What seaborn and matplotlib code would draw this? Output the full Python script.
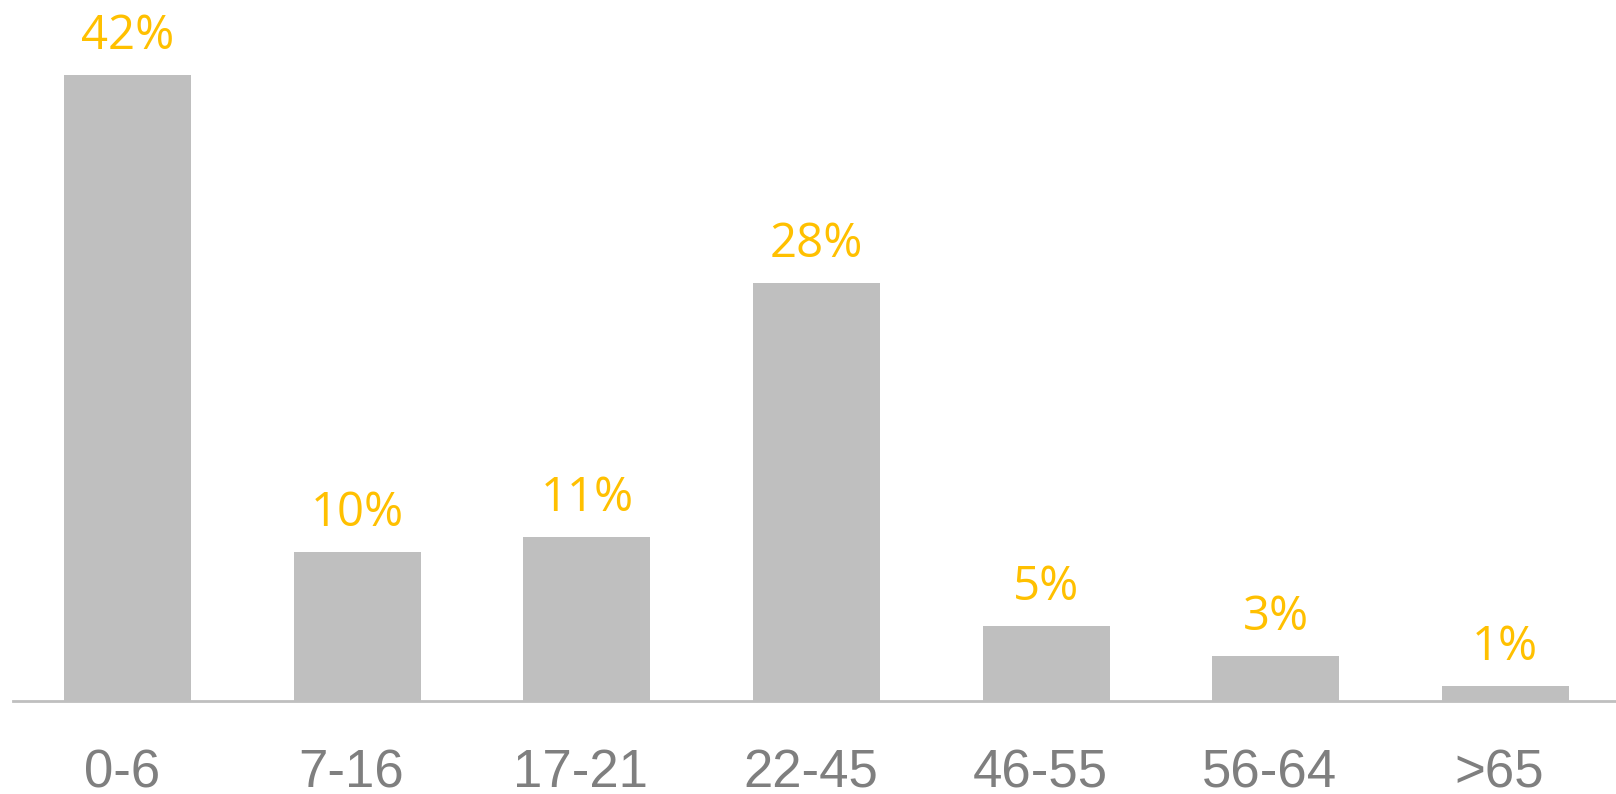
import matplotlib
matplotlib.use("Agg")
import matplotlib.pyplot as plt
import matplotlib.transforms as mtransforms
import seaborn as sns
import pandas as pd

categories = ["0-6", "7-16", "17-21", "22-45", "46-55", "56-64", ">65"]
values = [42, 10, 11, 28, 5, 3, 1]
labels = [f"{v}%" for v in values]

BAR = "#BFBFBF"
LABEL = "#FFC000"
TICK = "#7F7F7F"

sns.set_style("white")
plt.rcParams["font.family"] = ["Liberation Sans", "DejaVu Sans"]

df = pd.DataFrame({"age": categories, "share": values})

fig = plt.figure(figsize=(16.16, 7.94), dpi=100)
ax = fig.add_axes([13 / 1616, 93 / 794, 1607 / 1616, 701 / 794])

sns.barplot(data=df, x="age", y="share", color=BAR, width=0.553,
            saturation=1, ax=ax, edgecolor="none", linewidth=0)

ax.set_xlim(-0.5, 6.5)
ax.set_ylim(0, 47)
ax.set_xlabel("")
ax.set_ylabel("")
ax.set_yticks([])

for side in ["top", "right", "left"]:
    ax.spines[side].set_visible(False)
ax.spines["bottom"].set_color(BAR)
ax.spines["bottom"].set_linewidth(2.0)
ax.spines["bottom"].set_zorder(3)

ax.tick_params(axis="x", length=0, pad=34, labelsize=38, labelcolor=TICK)
shift = mtransforms.ScaledTranslation(-6 / 100, 0, fig.dpi_scale_trans)
for t in ax.get_xticklabels():
    t.set_transform(t.get_transform() + shift)

for patch, lab in zip(ax.patches, labels):
    x = patch.get_x() + patch.get_width() / 2
    y = patch.get_height()
    ax.annotate(lab, (x, y), xytext=(0, 18.7), textcoords="offset points",
                ha="center", va="baseline", color=LABEL, fontsize=34,
                family=["Open Sans", "DejaVu Sans"])

fig.savefig("out.png", dpi=100)
